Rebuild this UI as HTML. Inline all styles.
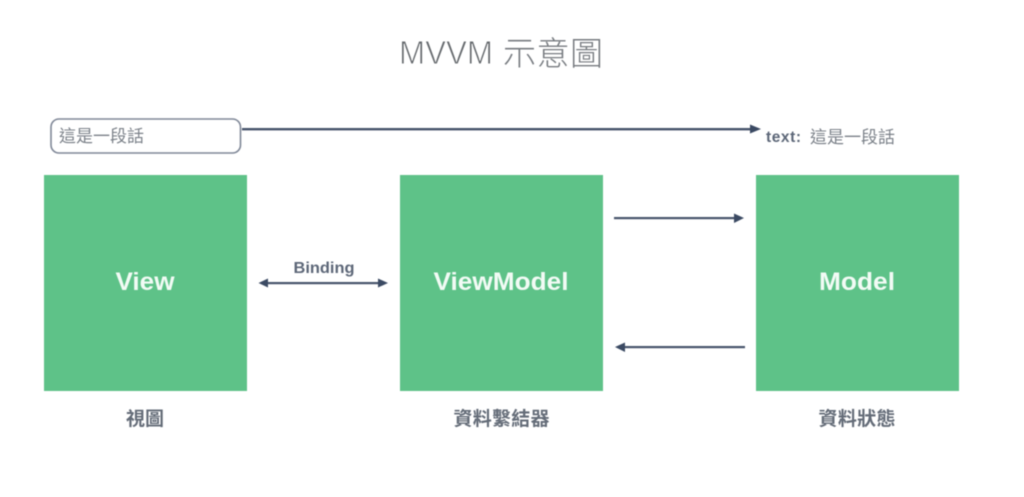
<!DOCTYPE html>
<html lang="zh-Hant">
<head>
<meta charset="utf-8">
<style>
html,body{margin:0;padding:0;background:#fff;width:1024px;height:497px;overflow:hidden}
svg{display:block;filter:blur(0.45px)}
text{font-family:"Liberation Sans","Noto Sans CJK TC",sans-serif}
</style>
</head>
<body>
<svg width="1024" height="497" viewBox="0 0 1024 497" xmlns="http://www.w3.org/2000/svg">
<rect width="1024" height="497" fill="#fff"/>
<text x="399" y="64" font-size="33" fill="#666a6e" stroke="#fff" stroke-width="0.9" paint-order="fill" textLength="94" lengthAdjust="spacingAndGlyphs">MVVM</text>
<text x="503" y="65" font-size="33" fill="#777b80" style="font-family:'Noto Sans CJK TC',sans-serif;font-weight:300" textLength="100">示意圖</text>

<rect x="51" y="119" width="189.500" height="34" rx="8" fill="#fff" stroke="#7f8797" stroke-width="1.6"/>
<text x="59" y="142" font-size="17" fill="#7a8088" textLength="85">這是一段話</text>

<rect x="242" y="128" width="510" height="2.4" fill="#47546b"/>
<polygon points="761,129 750,124.500 750,133.500" fill="#3b4a63"/>
<text x="766" y="142" font-size="15.500" font-weight="bold" fill="#5d6778" textLength="35">text:</text>
<text x="810" y="143" font-size="17" fill="#7a8088" textLength="85">這是一段話</text>

<rect x="44" y="175" width="203" height="216" fill="#5ec288"/>
<rect x="400" y="175" width="203" height="216" fill="#5ec288"/>
<rect x="756" y="175" width="203" height="216" fill="#5ec288"/>

<text x="145" y="290" font-size="25" font-weight="bold" fill="#f2fbf5" text-anchor="middle" textLength="59" lengthAdjust="spacingAndGlyphs">View</text>
<text x="501" y="290" font-size="25" font-weight="bold" fill="#f2fbf5" text-anchor="middle" textLength="135" lengthAdjust="spacingAndGlyphs">ViewModel</text>
<text x="857" y="290" font-size="25" font-weight="bold" fill="#f2fbf5" text-anchor="middle" textLength="76" lengthAdjust="spacingAndGlyphs">Model</text>

<text x="324" y="273" font-size="16" font-weight="bold" fill="#5d6778" text-anchor="middle" textLength="61" lengthAdjust="spacingAndGlyphs">Binding</text>
<rect x="264" y="282" width="118" height="2.2" fill="#47546b"/>
<polygon points="258.500,283 268,278.500 268,287.500" fill="#3b4a63"/>
<polygon points="388,283 378,278.500 378,287.500" fill="#3b4a63"/>

<rect x="614" y="217" width="124" height="2.2" fill="#47546b"/>
<polygon points="744,218 734,213.500 734,223" fill="#3b4a63"/>
<rect x="621" y="346" width="124" height="2.2" fill="#47546b"/>
<polygon points="615,347 625,342.500 625,352" fill="#3b4a63"/>

<text x="145" y="425" font-size="19" font-weight="bold" fill="#646c78" text-anchor="middle" textLength="38">視圖</text>
<text x="501.500" y="425" font-size="19" font-weight="bold" fill="#646c78" text-anchor="middle" textLength="96">資料繫結器</text>
<text x="857" y="425" font-size="19" font-weight="bold" fill="#646c78" text-anchor="middle" textLength="77">資料狀態</text>
</svg>
</body>
</html>
